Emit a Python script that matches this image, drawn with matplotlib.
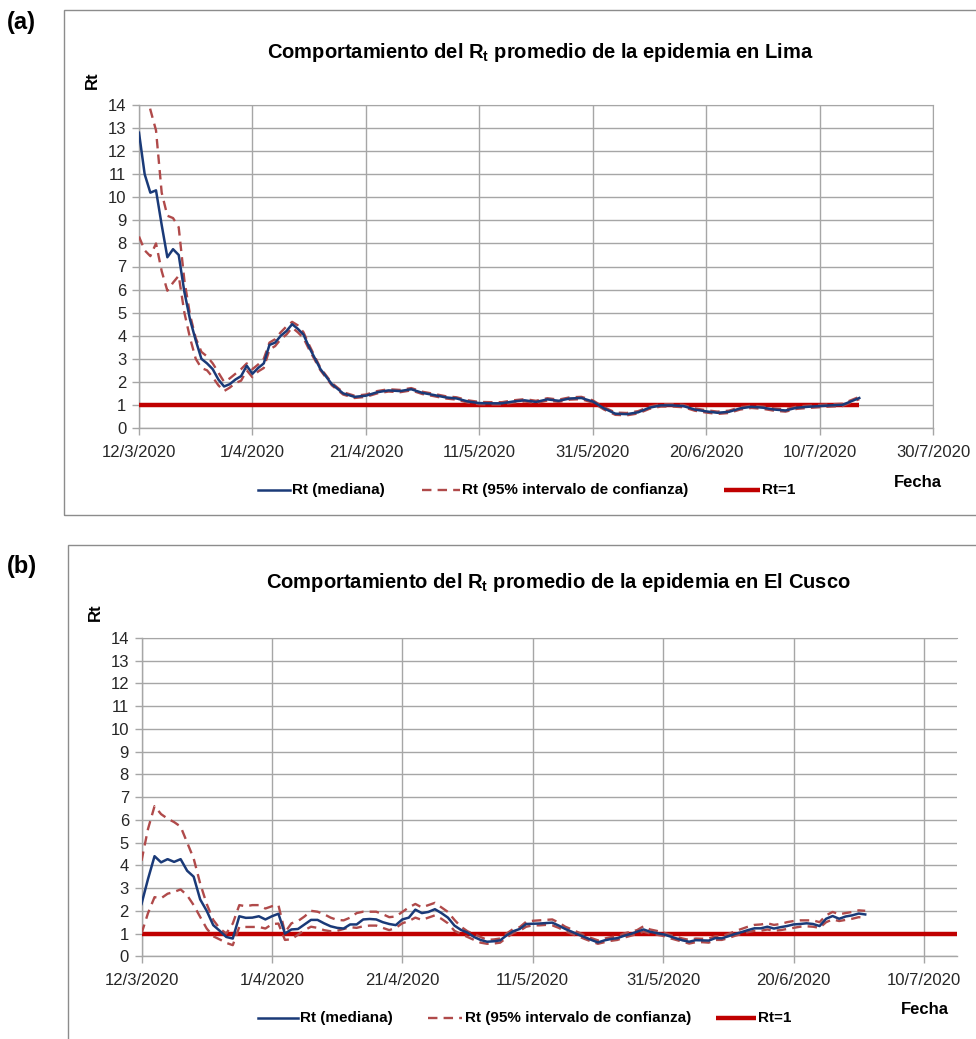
import matplotlib
matplotlib.use('Agg')
import matplotlib.pyplot as plt
from matplotlib.lines import Line2D
from matplotlib.patches import Rectangle

# ---------------- DATA ----------------
tick_dias_lima = [0, 20, 40, 60, 80, 100, 120, 140]
tick_lab_lima = ["12/3/2020", "1/4/2020", "21/4/2020", "11/5/2020", "31/5/2020",
                 "20/6/2020", "10/7/2020", "30/7/2020"]
tick_dias_cusco = [0, 20, 40, 60, 80, 100, 120]
tick_lab_cusco = ["12/3/2020", "1/4/2020", "21/4/2020", "11/5/2020", "31/5/2020",
                  "20/6/2020", "10/7/2020"]

# Lima (days since 12/3/2020)
dias_lima = list(range(0, 31)) + list(range(32, 127, 2)) + [127]
med_lima = [12.8, 11.0, 10.2, 10.3, 8.8, 7.4, 7.75, 7.5, 5.9, 4.7, 3.8, 3.0, 2.8, 2.55, 2.1,
            1.8, 1.9, 2.1, 2.25, 2.7, 2.35, 2.6, 2.8, 3.6, 3.7, 4.0, 4.2, 4.5, 4.3, 4.05, 3.5,
            2.55, 1.9, 1.5, 1.35, 1.4, 1.55, 1.63, 1.6, 1.68, 1.52,
            1.43, 1.33, 1.28, 1.15, 1.08, 1.07, 1.07, 1.15, 1.2, 1.13,
            1.24, 1.18, 1.28, 1.3, 1.15, 0.85, 0.62, 0.6, 0.68, 0.88,
            0.98, 0.98, 0.95, 0.8, 0.72, 0.66, 0.7, 0.85, 0.92, 0.88,
            0.8, 0.76, 0.88, 0.92, 0.95, 0.98, 1.0, 1.2, 1.3]
sup_lima = [16.5, 15.0, 13.8, 12.9, 10.2, 9.2, 9.1, 8.7, 6.4, 4.9, 3.9, 3.3, 3.1, 2.8, 2.4,
            2.0, 2.15, 2.35, 2.55, 2.8, 2.55, 2.75, 3.0, 3.7, 3.85, 4.15, 4.4, 4.6, 4.45, 4.15, 3.6,
            2.6, 1.95, 1.55, 1.4, 1.45, 1.6, 1.68, 1.65, 1.73, 1.57,
            1.48, 1.38, 1.33, 1.2, 1.13, 1.12, 1.12, 1.2, 1.25, 1.18,
            1.29, 1.23, 1.33, 1.35, 1.2, 0.9, 0.67, 0.65, 0.73, 0.93,
            1.03, 1.03, 1.0, 0.85, 0.77, 0.71, 0.75, 0.9, 0.97, 0.93,
            0.85, 0.81, 0.93, 0.97, 1.0, 1.03, 1.05, 1.25, 1.35]
inf_lima = [8.3, 7.7, 7.45, 8.0, 6.8, 5.95, 6.3, 6.6, 5.0, 3.9, 3.0, 2.6, 2.5, 2.2, 1.85,
            1.6, 1.75, 1.95, 2.05, 2.5, 2.2, 2.45, 2.6, 3.4, 3.55, 3.85, 4.05, 4.35, 4.15, 3.9, 3.4,
            2.5, 1.85, 1.45, 1.3, 1.35, 1.5, 1.58, 1.55, 1.63, 1.47,
            1.38, 1.28, 1.23, 1.1, 1.03, 1.02, 1.02, 1.1, 1.15, 1.08,
            1.19, 1.13, 1.23, 1.25, 1.1, 0.8, 0.57, 0.55, 0.63, 0.83,
            0.93, 0.93, 0.9, 0.75, 0.67, 0.61, 0.65, 0.8, 0.87, 0.83,
            0.75, 0.71, 0.83, 0.87, 0.9, 0.93, 0.95, 1.15, 1.25]
ref_dias_lima = [0, 127]
ref_lima = [1, 1]

# El Cusco
dias_cusco = list(range(0, 112))
med_cusco = [2.3, 3.4, 4.4, 4.13, 4.27, 4.15, 4.27, 3.76, 3.5, 2.5,
             2.0, 1.37, 1.12, 0.85, 0.78, 1.76, 1.69, 1.7, 1.76, 1.62,
             1.76, 1.87, 1.0, 1.18, 1.2, 1.4, 1.6, 1.6, 1.45, 1.32,
             1.25, 1.22, 1.4, 1.4, 1.62, 1.64, 1.62, 1.5, 1.42, 1.37,
             1.62, 1.7, 2.05, 1.9, 1.95, 2.07, 1.9, 1.7, 1.35, 1.16,
             1.04, 0.85, 0.72, 0.64, 0.66, 0.7, 0.92, 1.1, 1.2, 1.42,
             1.43, 1.44, 1.46, 1.48, 1.35, 1.2, 1.08, 0.95, 0.84, 0.72,
             0.61, 0.7, 0.76, 0.8, 0.9, 0.98, 1.08, 1.18, 1.08, 1.02,
             0.97, 0.88, 0.79, 0.7, 0.64, 0.71, 0.7, 0.69, 0.8, 0.79,
             0.88, 0.98, 1.06, 1.15, 1.23, 1.23, 1.3, 1.22, 1.28, 1.33,
             1.4, 1.42, 1.45, 1.42, 1.33, 1.65, 1.77, 1.65, 1.75, 1.8,
             1.88, 1.84]
sup_cusco = [4.2, 5.6, 6.6, 6.25, 6.05, 5.9, 5.7, 5.0, 4.3, 3.2,
             2.3, 1.6, 1.22, 1.0, 1.44, 2.25, 2.2, 2.25, 2.25, 2.1,
             2.2, 2.25, 1.05, 1.45, 1.55, 1.75, 2.0, 1.96, 1.85, 1.7,
             1.6, 1.58, 1.7, 1.9, 1.96, 1.96, 1.96, 1.85, 1.72, 1.75,
             1.95, 2.15, 2.3, 2.15, 2.25, 2.35, 2.15, 1.95, 1.6, 1.3,
             1.1, 0.98, 0.85, 0.72, 0.74, 0.78, 1.0, 1.2, 1.28, 1.52,
             1.56, 1.58, 1.6, 1.62, 1.48, 1.3, 1.18, 1.05, 0.92, 0.8,
             0.7, 0.78, 0.84, 0.88, 1.0, 1.08, 1.15, 1.32, 1.18, 1.12,
             1.05, 0.95, 0.86, 0.78, 0.72, 0.78, 0.77, 0.78, 0.88, 0.88,
             0.98, 1.1, 1.2, 1.3, 1.38, 1.4, 1.45, 1.38, 1.42, 1.5,
             1.55, 1.58, 1.58, 1.58, 1.5, 1.8, 1.95, 1.85, 1.9, 1.95,
             2.02, 2.0]
inf_cusco = [1.0, 1.9, 2.6, 2.55, 2.75, 2.83, 2.94, 2.68, 2.25, 1.73,
             1.22, 0.88, 0.74, 0.59, 0.49, 1.29, 1.29, 1.29, 1.29, 1.22,
             1.41, 1.44, 0.72, 0.75, 0.95, 1.15, 1.3, 1.25, 1.15, 1.1,
             1.12, 1.2, 1.28, 1.25, 1.32, 1.35, 1.35, 1.25, 1.15, 1.25,
             1.45, 1.55, 1.7, 1.6, 1.7, 1.8, 1.65, 1.45, 1.12, 0.98,
             0.85, 0.72, 0.6, 0.55, 0.56, 0.6, 0.82, 1.02, 1.12, 1.3,
             1.36, 1.36, 1.38, 1.36, 1.25, 1.1, 0.98, 0.88, 0.76, 0.65,
             0.55, 0.62, 0.68, 0.72, 0.82, 0.9, 0.98, 1.08, 1.0, 0.95,
             0.9, 0.8, 0.72, 0.64, 0.56, 0.62, 0.62, 0.6, 0.72, 0.72,
             0.8, 0.9, 0.98, 1.06, 1.12, 1.12, 1.18, 1.12, 1.15, 1.2,
             1.25, 1.3, 1.32, 1.3, 1.25, 1.5, 1.62, 1.55, 1.6, 1.65,
             1.72, 1.7]
ref_dias_cusco = [0, 125]
ref_cusco = [1, 1]

titulos = ["Comportamiento del R$_\\mathbf{t}$ promedio de la epidemia en Lima",
           "Comportamiento del R$_\\mathbf{t}$ promedio de la epidemia en El Cusco"]
leyenda = ["Rt (mediana)", "Rt (95% intervalo de confianza)", "Rt=1"]

# ---------------- STYLE ----------------
NARROW = ['Liberation Sans', 'DejaVu Sans']
REG = ['Liberation Sans', 'DejaVu Sans']
plt.rcParams['mathtext.fontset'] = 'custom'
plt.rcParams['mathtext.rm'] = 'Liberation Sans'
plt.rcParams['mathtext.bf'] = 'Liberation Sans:bold'
plt.rcParams['mathtext.it'] = 'Liberation Sans:italic'

C_MED = '#1a3a78'
C_CI = '#b04a4a'
C_REF = '#c00000'
C_GRID = '#a6a6a6'
C_TXT = '#262626'

LW_MED = 1.8
LW_CI = 1.7
LW_REF = 3.2
DASH = (4, 2.6)

W, H = 976, 1039
fig = plt.figure(figsize=(W / 100, H / 100), dpi=100)


def fx(px):
    return px / W


def fy(py):
    return 1 - py / H


# frames
fig.add_artist(Rectangle((fx(64), fy(515)), fx(1000 - 64), (515 - 10) / H,
                         fill=False, edgecolor='#8c8c8c', lw=1.0, transform=fig.transFigure))
fig.add_artist(Rectangle((fx(68), fy(1045)), fx(1000 - 68), (1045 - 545) / H,
                         fill=False, edgecolor='#8c8c8c', lw=1.0, transform=fig.transFigure))


def panel(rect, xmax, ticks, labs, dias, med, sup, inf, rdias, ref):
    ax = fig.add_axes(rect)
    ax.set_xlim(0, xmax)
    ax.set_ylim(0, 14)
    ax.set_xticks(ticks)
    ax.set_xticklabels(labs)
    ax.set_yticks(range(0, 15))
    ax.grid(True, color=C_GRID, lw=1.0)
    ax.set_axisbelow(True)
    for s in ['top', 'right']:
        ax.spines[s].set_visible(False)
    for s in ['left', 'bottom']:
        ax.spines[s].set_color(C_GRID)
        ax.spines[s].set_linewidth(1.0)
    ax.tick_params(axis='both', length=5, width=1.0, color=C_GRID,
                   labelsize=12, labelcolor=C_TXT)
    ax.tick_params(axis='x', pad=7)
    ax.tick_params(axis='y', pad=4)
    for lab in ax.get_xticklabels() + ax.get_yticklabels():
        lab.set_fontfamily(REG)
    ax.plot(rdias, ref, color=C_REF, lw=LW_REF, solid_capstyle='butt', zorder=3)
    ax.plot(dias, sup, color=C_CI, lw=LW_CI, dashes=DASH, zorder=4)
    ax.plot(dias, inf, color=C_CI, lw=LW_CI, dashes=DASH, zorder=4)
    ax.plot(dias, med, color=C_MED, lw=LW_MED, zorder=5)
    return ax


axa = panel([fx(139), fy(428), (933 - 139) / W, (428 - 105) / H], 140,
            tick_dias_lima, tick_lab_lima, dias_lima, med_lima, sup_lima, inf_lima,
            ref_dias_lima, ref_lima)
axb = panel([fx(141.5), fy(956.3), (956.5 - 141.5) / W, (956.3 - 637.8) / H], 125,
            tick_dias_cusco, tick_lab_cusco, dias_cusco, med_cusco, sup_cusco, inf_cusco,
            ref_dias_cusco, ref_cusco)
axa.spines['right'].set_visible(True)
axa.spines['right'].set_color(C_GRID)
axa.spines['top'].set_visible(True)
axa.spines['top'].set_color(C_GRID)
axb.spines['top'].set_visible(True)
axb.spines['top'].set_color(C_GRID)

# titles and labels
fig.text(fx(540), fy(52), titulos[0], ha='center', va='center', fontsize=14.5,
         fontweight='bold', family=NARROW, color='black')
fig.text(fx(558), fy(582), titulos[1], ha='center', va='center', fontsize=14.5,
         fontweight='bold', family=NARROW, color='black')
fig.text(fx(92), fy(80), "Rt", rotation=90, ha='center', va='center', fontsize=12,
         fontweight='bold', family=NARROW)
fig.text(fx(95), fy(612), "Rt", rotation=90, ha='center', va='center', fontsize=12,
         fontweight='bold', family=NARROW)
fig.text(fx(918), fy(482), "Fecha", ha='center', va='center', fontsize=12,
         fontweight='bold', family=NARROW)
fig.text(fx(925), fy(1010), "Fecha", ha='center', va='center', fontsize=12,
         fontweight='bold', family=NARROW)
fig.text(fx(7), fy(23), "(a)", ha='left', va='center', fontsize=17,
         fontweight='bold', family=REG)
fig.text(fx(7), fy(567), "(b)", ha='left', va='center', fontsize=17,
         fontweight='bold', family=REG)


def legend_row(y, xs):
    styles = [dict(color=C_MED, lw=LW_MED), dict(color=C_CI, lw=LW_CI, dashes=DASH),
              dict(color=C_REF, lw=LW_REF, solid_capstyle='butt')]
    for (x0, x1, xt), st, txt in zip(xs, styles, leyenda):
        fig.add_artist(Line2D([fx(x0), fx(x1)], [fy(y), fy(y)], transform=fig.transFigure, **st))
        fig.text(fx(xt), fy(y), txt, ha='left', va='center', fontsize=11,
                 fontweight='bold', family=NARROW)


legend_row(490, [(258, 290, 292), (422, 460, 462), (724, 760, 762)])
legend_row(1018, [(258, 298, 300), (428, 462, 465), (716, 756, 758)])

fig.savefig('out.png', dpi=100)
